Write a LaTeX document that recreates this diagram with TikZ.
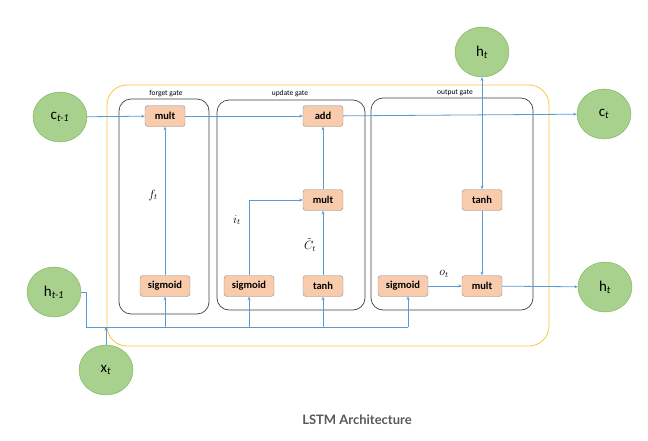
\documentclass[tikz,border=0pt]{standalone}
\usepackage{fontspec}
\setmainfont{Carlito}
\newfontfamily\capfont{Lato}
\usetikzlibrary{arrows.meta,shapes.geometric}
\definecolor{cellgreen}{RGB}{169,209,142}
\definecolor{cellgreenline}{RGB}{120,175,85}
\definecolor{opfill}{RGB}{248,203,173}
\definecolor{opline}{RGB}{140,140,140}
\definecolor{wire}{RGB}{91,155,213}
\definecolor{cellbox}{RGB}{250,200,60}
\definecolor{capgray}{RGB}{88,88,88}
\begin{document}
\begin{tikzpicture}[x=1pt,y=-1pt]
			\tikzstyle{state}=[ellipse,draw=cellgreenline,fill=cellgreen,minimum width=54pt,minimum height=50pt,inner sep=0pt,font=\fontsize{15}{15}\selectfont]
			\tikzstyle{op}=[rectangle,rounded corners=3pt,draw=opline,fill=opfill,minimum height=21pt,inner sep=1pt,font=\fontsize{10.5}{11}\selectfont\bfseries]
			\tikzstyle{gatebox}=[draw=black!75,rounded corners=12pt,line width=0.7pt]
			\tikzstyle{gatename}=[font=\fontsize{7.5}{8}\selectfont]
			\tikzstyle{mathlabel}=[font=\fontsize{12}{12}\selectfont]
			\tikzstyle{flow}=[draw=wire,line width=0.8pt,-{Stealth[length=3.5pt,width=3pt]}]
			\useasboundingbox (0,0) rectangle (648,440);
			\draw[cellbox,line width=0.8pt,rounded corners=20pt] (107,85) rectangle (549,346);
			\draw[gatebox] (119,99) rectangle (209,314);
			\draw[gatebox] (217,100) rectangle (365,310);
			\draw[gatebox] (371,98) rectangle (533,310);
			\node[gatename] (n_forget) at (166,94) {forget gate};
			\node[gatename] (n_update) at (290,94) {update gate};
			\node[gatename] (n_output) at (455,93) {output gate};
			\node[state] (c_in) at (60,117) {c\textsubscript{\textit{t-1}}};
			\node[state] (h_in) at (54,292) {h\textsubscript{\textit{t-1}}};
			\node[state] (x_in) at (106,370) {x\textsubscript{\textit{t}}};
			\node[state] (h_top) at (482,52) {h\textsubscript{\textit{t}}};
			\node[state] (c_out) at (604,114) {c\textsubscript{\textit{t}}};
			\node[state] (h_out) at (605,287) {h\textsubscript{\textit{t}}};
			\node[op,minimum width=40pt] (f_mult) at (165,116) {mult};
			\node[op,minimum width=50pt] (f_sig) at (165,286) {sigmoid};
			\node[op,minimum width=40pt] (u_add) at (323,116) {add};
			\node[op,minimum width=40pt] (u_mult) at (323,200) {mult};
			\node[op,minimum width=50pt] (u_sig) at (249,286) {sigmoid};
			\node[op,minimum width=40pt] (u_tanh) at (323,286) {tanh};
			\node[op,minimum width=40pt] (o_tanh) at (482,200) {tanh};
			\node[op,minimum width=40pt] (o_mult) at (482,286) {mult};
			\node[op,minimum width=50pt] (o_sig) at (403,286) {sigmoid};
			\coordinate (bus_l) at (86,327);
			\coordinate (bus_x) at (106,327);
			\coordinate (split) at (482,116);
			\node[mathlabel] (l_f) at (153,195) {$f_t$};
			\node[mathlabel] (l_i) at (237,220) {$i_t$};
			\node[mathlabel] (l_c) at (310,245) {$\tilde{C}_t$};
			\node[mathlabel] (l_o) at (444,274) {$o_t$};
			\draw[flow] (c_in) -- (f_mult);
			\draw[flow] (f_mult) -- (u_add);
			\draw[flow] (u_add) -- (c_out);
			\draw[flow] (f_sig) -- (f_mult);
			\draw[flow] (u_sig) |- (u_mult);
			\draw[flow] (u_tanh) -- (u_mult);
			\draw[flow] (u_mult) -- (u_add);
			\draw[flow] (split) -- (h_top);
			\draw[flow] (split) -- (o_tanh);
			\draw[flow] (o_tanh) -- (o_mult);
			\draw[flow] (o_sig) -- (o_mult);
			\draw[flow] (o_mult) -- (h_out);
			\draw[draw=wire,line width=0.8pt] (h_in.east) -| (bus_l) -- (408,327);
			\draw[flow] (x_in) -- (bus_x);
			\draw[flow] (165,327) -- (f_sig);
			\draw[flow] (249,327) -- (u_sig);
			\draw[flow] (323,327) -- (u_tanh);
			\draw[flow] (408,327) -- (408,296.5);
			\node[font=\capfont\bfseries\fontsize{13}{14}\selectfont,text=capgray] (caption) at (357,420) {LSTM Architecture};
		\end{tikzpicture}
\end{document}
